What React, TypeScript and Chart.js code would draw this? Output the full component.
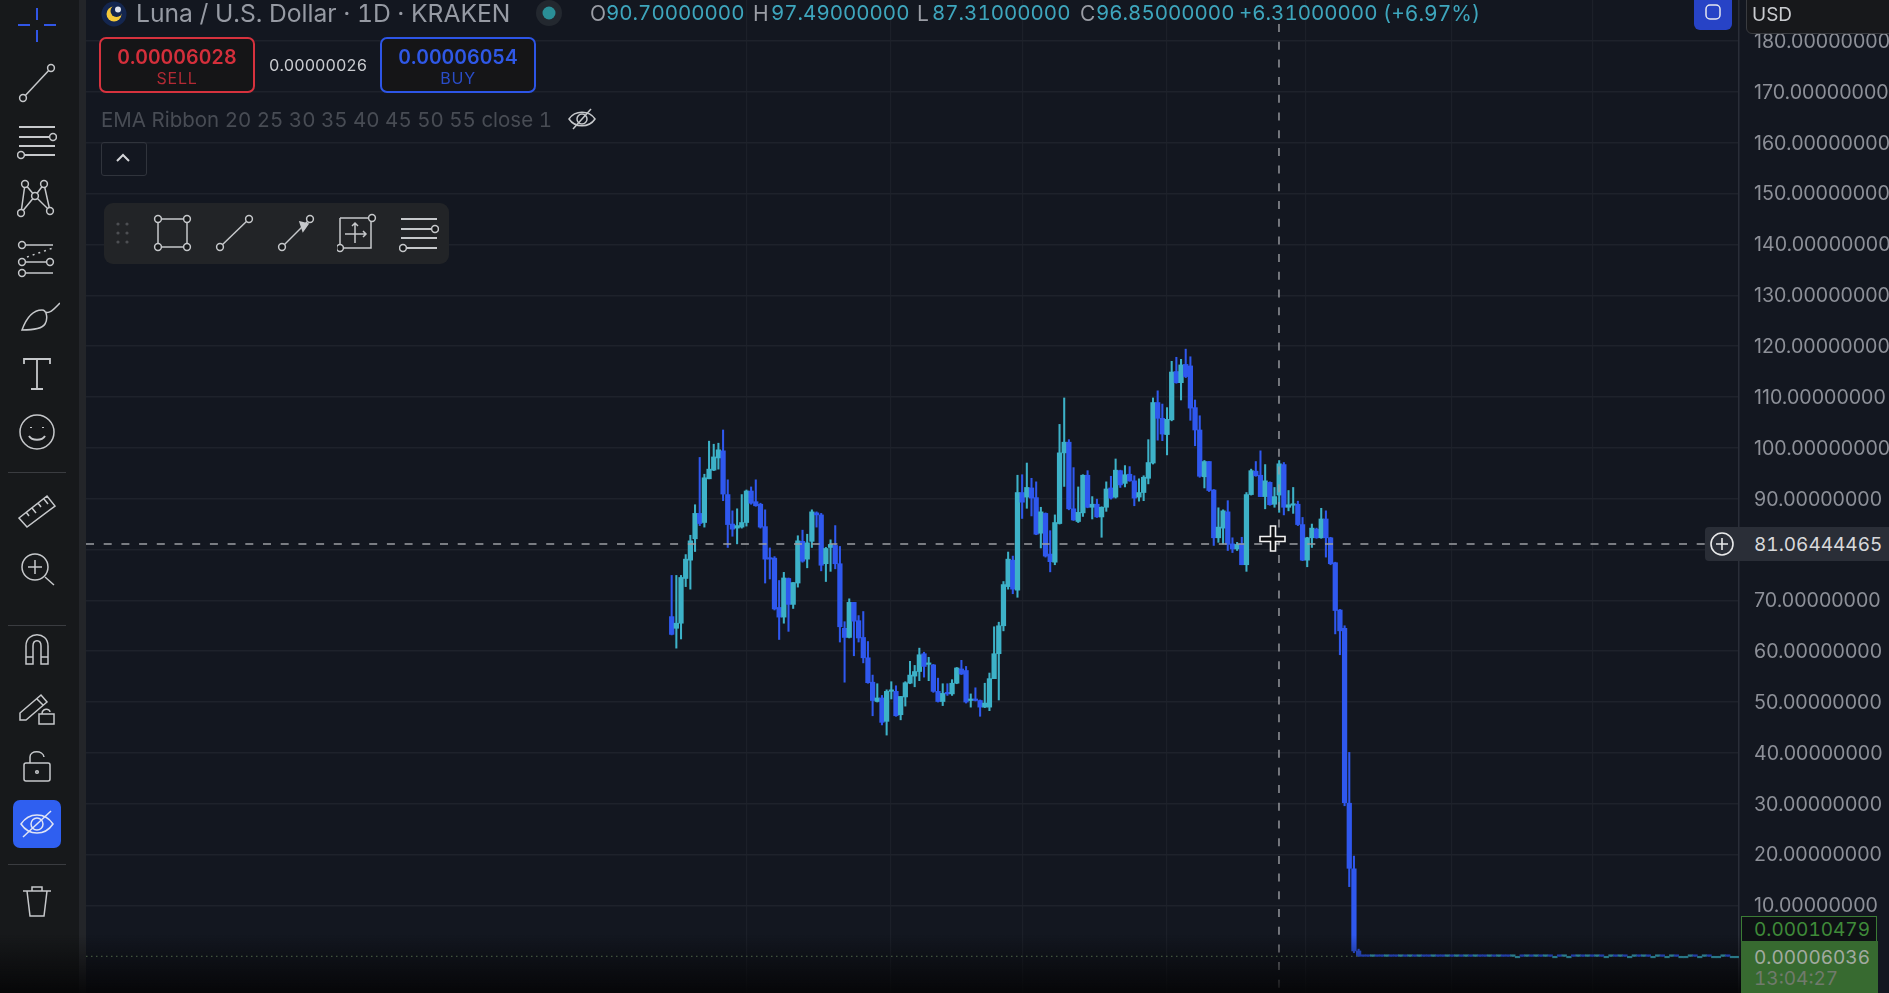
import React, { useEffect, useRef } from "react";
import { Chart, registerables } from "chart.js";

Chart.register(...registerables);

const opens = [
66.8,64.5,65.5,74.3,77.9,82.1,87.1,85.3,93.9,95.6,
98.0,99.4,90.8,85.0,84.2,84.4,85.3,91.5,89.4,88.9,
84.5,78.3,78.3,68.6,66.7,74.3,69.2,73.4,81.6,78.1,
81.6,87.2,86.8,77.2,80.4,80.8,77.2,64.5,62.7,69.6,
66.0,62.7,58.7,53.9,50.1,50.8,46.2,52.1,52.1,47.5,
51.0,53.7,55.1,56.0,59.5,57.4,57.3,52.1,50.1,51.9,
51.6,53.7,56.5,56.2,50.3,50.6,50.3,49.0,49.0,54.6,
59.5,65.0,72.7,77.9,72.0,91.2,90.3,92.1,90.2,83.2,
87.1,79.1,77.5,85.1,99.0,101.1,88.0,85.5,87.2,94.6,
88.3,88.9,86.4,88.3,92.1,90.3,95.5,93.0,94.8,93.5,
90.3,91.2,94.0,97.0,108.9,105.8,102.6,105.5,115.0,112.8,
116.4,116.1,107.9,103.5,94.3,97.3,91.7,82.3,84.2,87.4,
81.1,80.1,81.1,77.0,90.8,95.4,94.6,90.4,93.2,88.9,
90.7,96.7,88.3,88.7,88.9,84.9,77.9,82.3,84.0,82.3,
86.0,82.3,77.4,68.1,64.5,30.1,17.2,1.05];

const closes = [
63.3,65.5,74.5,78.1,81.7,87.1,85.1,94.1,95.8,98.2,
99.6,90.9,84.9,84.0,84.7,85.3,91.5,89.1,88.6,84.4,
78.1,78.1,68.3,66.7,74.4,69.2,73.5,81.7,77.7,81.3,
87.4,86.8,76.9,80.2,81.0,77.2,64.8,62.7,69.6,65.9,
62.6,58.7,53.8,50.3,50.8,46.0,52.1,52.3,47.3,51.1,
53.8,55.3,56.0,59.3,57.0,57.6,52.1,50.1,51.7,51.6,
53.7,56.7,55.5,50.0,50.6,50.3,49.0,49.8,54.6,59.5,
65.0,73.1,78.1,72.2,91.2,89.3,92.2,90.1,83.0,87.4,
78.7,77.6,85.3,99.0,101.1,88.0,85.8,87.3,94.6,88.3,
88.9,86.4,88.3,91.9,90.1,95.6,92.7,94.7,93.5,90.1,
91.2,94.2,97.1,108.9,105.8,102.7,105.6,114.9,112.8,116.3,
114.0,107.8,103.5,94.4,97.3,91.6,82.3,84.4,87.6,81.0,
80.1,81.0,77.0,90.8,95.5,94.5,90.4,93.5,88.8,90.4,
96.85,88.3,88.8,88.9,84.9,77.9,82.3,84.2,82.3,86.0,
82.3,77.2,68.0,64.0,30.2,17.3,1.05,0.0002];

const highs = [
74.9,74.9,74.9,79.0,82.8,88.8,98.1,94.8,101.3,100.7,
100.9,103.5,93.7,87.6,88.0,90.8,91.7,92.3,93.7,89.1,
87.8,80.3,78.6,73.9,75.5,74.4,73.5,82.7,83.8,83.0,
87.8,87.4,87.1,80.4,81.9,84.7,80.6,65.8,70.3,69.6,
67.0,67.8,61.9,55.3,53.6,51.3,52.4,54.0,53.2,51.1,
54.0,58.0,57.2,60.6,59.8,58.8,57.4,54.7,53.6,53.6,
54.4,56.8,58.2,57.0,51.6,52.8,50.4,53.7,55.7,64.8,
65.7,73.7,79.5,78.7,94.6,94.7,97.0,94.0,93.3,88.3,
87.2,83.7,86.8,104.6,109.8,101.6,96.1,92.3,94.7,95.5,
90.4,89.9,88.4,93.3,94.4,97.8,95.6,96.5,96.3,94.5,
93.9,94.5,101.6,109.8,111.2,108.6,107.9,117.0,117.8,117.4,
119.4,117.9,109.4,106.3,97.5,97.3,91.8,88.2,87.8,89.6,
82.3,81.4,82.4,91.2,95.8,97.3,99.4,96.7,93.3,92.2,
97.49,97.1,91.6,92.2,89.5,86.3,82.4,85.0,84.2,88.1,
87.6,82.4,77.5,68.2,65.0,40.1,19.7,1.4];

const lows = [
63.2,60.6,62.4,72.7,72.2,79.6,84.7,84.4,93.9,95.5,
95.8,89.6,80.4,82.6,81.1,84.2,84.6,88.9,88.5,84.2,
73.4,74.2,68.1,62.3,65.5,63.9,68.4,72.6,77.5,76.4,
80.4,84.4,75.8,73.7,75.7,76.2,61.8,53.9,62.6,59.1,
61.8,57.7,53.7,47.3,50.0,45.5,43.5,50.6,47.2,46.5,
49.2,53.6,53.0,54.2,54.9,54.2,51.9,50.0,49.3,51.3,
51.3,53.6,55.4,49.8,49.0,50.2,47.2,48.9,48.3,54.6,
50.4,64.0,72.2,71.3,70.6,86.1,88.1,86.6,82.9,80.3,
78.5,75.6,77.0,85.0,92.4,87.8,85.7,85.3,86.5,88.2,
86.0,86.3,82.4,87.5,89.9,90.1,92.2,92.3,93.4,88.6,
89.5,89.6,92.9,96.8,101.5,101.4,98.6,105.3,112.7,109.4,
113.8,105.4,100.4,94.2,92.1,91.4,80.8,81.4,81.1,79.8,
79.4,79.8,77.0,75.7,90.7,94.4,90.4,88.0,88.7,88.3,
87.31,86.8,87.6,87.1,84.7,77.8,76.6,80.4,82.2,82.2,
78.5,77.0,63.4,59.3,29.6,13.7,0.7,0.0001];

// the long flat stretch after the collapse
const tailOpens = [
0.00019,0.00017,0.00014,0.00016,0.00013,0.00012,0.00014,0.00012,0.00011,0.00012,
0.00011,0.00012,0.00010,0.00011,0.00010,0.00009,0.00011,0.00010,0.00009,0.00010,
0.00009,0.00010,0.00008,0.00009,0.00008,0.00010,0.00009,0.00008,0.00009,0.00008,
0.00009,0.00008,0.00007,0.00008,0.00008,0.00007,0.00008,0.00007,0.00008,0.00007,
0.00008,0.00007,0.00007,0.00006,0.00007,0.00007,0.00006,0.00007,0.00006,0.00007,
0.00006,0.00007,0.00006,0.00006,0.00007,0.00006,0.00007,0.00006,0.00006,0.00007,
0.00006,0.00007,0.00006,0.00006,0.00007,0.00006,0.00006,0.00007,0.00006,0.00006,
0.00006,0.00007,0.00006,0.00006,0.00007,0.00006,0.00006,0.00006,0.00007,0.00006,0.00006];
const tailCloses = [
0.00017,0.00014,0.00016,0.00013,0.00012,0.00014,0.00012,0.00011,0.00012,0.00011,
0.00012,0.00010,0.00011,0.00010,0.00009,0.00011,0.00010,0.00009,0.00010,0.00009,
0.00010,0.00008,0.00009,0.00008,0.00010,0.00009,0.00008,0.00009,0.00008,0.00009,
0.00008,0.00007,0.00008,0.00008,0.00007,0.00008,0.00007,0.00008,0.00007,0.00008,
0.00007,0.00007,0.00006,0.00007,0.00007,0.00006,0.00007,0.00006,0.00007,0.00006,
0.00007,0.00006,0.00006,0.00007,0.00006,0.00007,0.00006,0.00006,0.00007,0.00006,
0.00007,0.00006,0.00006,0.00007,0.00006,0.00006,0.00007,0.00006,0.00006,0.00006,
0.00007,0.00006,0.00006,0.00007,0.00006,0.00006,0.00006,0.00007,0.00006,0.00006,0.00006];

const priceTicks = [10,20,30,40,50,60,70,80,90,100,110,120,130,140,150,160,170,180];
const gridDays = [16.1,46.9,75,106,135.7,167,197];
const crosshairPrice = 81.06444465;
const crosshairDay = 129.96;
const lastPrice = 0.00006036;
const lastTradedDay = 147;

const allOpens = [...opens, ...tailOpens];
const allCloses = [...closes, ...tailCloses];
const allHighs = [...highs, ...tailOpens];
const allLows = [...lows, ...tailCloses];

const TEAL = "#3db2c8";
const BLUE = "#2f58ee";
const BG = "#131720";
const FONT = "Inter, 'Noto Sans', sans-serif";

const overlayPlugin = {
  id: "overlay",
  afterDatasetsDraw(chart: any) {
    const { ctx, chartArea, scales } = chart;
    const yCross = scales.y.getPixelForValue(crosshairPrice);
    const xCross = scales.x.getPixelForValue(crosshairDay);
    const yLast = scales.y.getPixelForValue(lastPrice);
    const xLast = scales.x.getPixelForValue(lastTradedDay);
    ctx.save();
    ctx.strokeStyle = "#9c9ea3";
    ctx.lineWidth = 1.4;
    ctx.setLineDash([8, 9.7]);
    ctx.beginPath();
    ctx.moveTo(chartArea.left, yCross);
    ctx.lineTo(chartArea.right - 34, yCross);
    ctx.moveTo(xCross, 24);
    ctx.lineTo(xCross, chartArea.bottom);
    ctx.stroke();
    ctx.strokeStyle = "#5e7a58";
    ctx.lineWidth = 1.2;
    ctx.setLineDash([1.5, 3.5]);
    ctx.beginPath();
    ctx.moveTo(chartArea.left, yLast);
    ctx.lineTo(xLast, yLast);
    ctx.stroke();
    ctx.restore();
  },
};

const S = { fill: "none", stroke: "#c6c8cb", strokeWidth: 1.5 };

function Icon({ x, y, w = 40, h = 40, children }: any) {
  return (
    <svg width={w} height={h} viewBox={`0 0 ${w} ${h}`} style={{ position: "absolute", left: x - w / 2, top: y - h / 2 }}>
      <g {...S}>{children}</g>
    </svg>
  );
}

const Dot = ({ cx, cy, r = 3.4 }: any) => <circle cx={cx} cy={cy} r={r} fill="#17191b" />;

function Txt({ x, y, size, color, weight = 400, children, spacing = 0, width }: any) {
  return (
    <div
      style={{
        position: "absolute",
        left: x,
        top: y,
        transform: "translateY(-50%)",
        fontFamily: FONT,
        fontSize: size,
        color,
        fontWeight: weight,
        letterSpacing: spacing,
        fontVariantNumeric: "tabular-nums",
        whiteSpace: "nowrap",
        lineHeight: 1,
        width,
        textAlign: width ? "center" : undefined,
      }}
    >
      {children}
    </div>
  );
}

function Sidebar() {
  return (
    <>
      <div style={{ position: "absolute", left: 0, top: 0, width: 79, height: 993, background: "#17191b" }} />
      <div style={{ position: "absolute", left: 79, top: 0, width: 7, height: 993, background: "#232529" }} />
      {[472, 625, 864].map((y) => (
        <div key={y} style={{ position: "absolute", left: 8, top: y, width: 58, height: 1, background: "#3a3c40" }} />
      ))}
      <div style={{ position: "absolute", left: 13, top: 800, width: 48, height: 48, borderRadius: 7, background: "#2f5ff0" }} />
      <Icon x={37} y={25}>
        <path d="M20 3V15M20 25V37M1 20H13M27 20H39" stroke="#3156e6" strokeWidth="2" />
      </Icon>
      <Icon x={37} y={83}>
        <path d="M6 35L34 5" /><Dot cx={6} cy={35} /><Dot cx={34} cy={5} />
      </Icon>
      <Icon x={37} y={141}>
        <path d="M2 6H38M2 16H38M2 25H38M2 34H38" strokeWidth="2" /><Dot cx={36} cy={16} /><Dot cx={4} cy={34} />
      </Icon>
      <Icon x={37} y={199}>
        <path d="M8 5L4 34L18 17L33 32L27 5L18 17L8 5M4 34L18 17" /><Dot cx={8} cy={5} /><Dot cx={27} cy={5} /><Dot cx={4} cy={34} /><Dot cx={33} cy={32} /><Dot cx={18} cy={17} />
      </Icon>
      <Icon x={37} y={258}>
        <path d="M5 7H36M5 24H36M5 35H36" /><path d="M10 19L36 10" strokeDasharray="2 4" /><Dot cx={5} cy={7} /><Dot cx={5} cy={24} /><Dot cx={33} cy={24} /><Dot cx={5} cy={35} />
      </Icon>
      <Icon x={40} y={315}>
        <path d="M2 35C6 24 12 15 22 15C27 15 28 24 25 29C22 34 10 35 2 35ZM25 17C30 19 34 14 40 8" />
      </Icon>
      <Icon x={37} y={375}>
        <path d="M7 9V4H33V9M20 4V34M14 34H26" strokeWidth="1.8" />
      </Icon>
      <Icon x={37} y={432}>
        <circle cx="20" cy="20" r="17" /><path d="M12 24C15 29 25 29 28 24M14 15v1M26 15v1" strokeWidth="2" />
      </Icon>
      <Icon x={37} y={511}>
        <path d="M2 27L30 5L38 15L10 36ZM9 21L12 25M15 17L19 22M21 12L24 16M27 8L31 13" />
      </Icon>
      <Icon x={37} y={569}>
        <circle cx="18" cy="18" r="13" /><path d="M28 28L37 36M11 18H25M18 11V25" />
      </Icon>
      <Icon x={37} y={648}>
        <path d="M9 36V18C9 3 31 3 31 18V36H24V18C24 11 16 11 16 18V36ZM9 29H16M24 29H31" />
      </Icon>
      <Icon x={37} y={707}>
        <path d="M3 26L24 8L30 15L9 33H3ZM20 12L26 18" /><rect x="22" y="27" width="15" height="10" /><path d="M25 27C25 21 33 21 33 25" />
      </Icon>
      <Icon x={37} y={766}>
        <rect x="7" y="17" width="26" height="18" rx="2" /><path d="M13 17V11C13 4 26 4 27 11" /><circle cx="20" cy="26" r="1.3" />
      </Icon>
      <Icon x={37} y={824}>
        <path d="M4 20C12 8 28 8 36 20C28 32 12 32 4 20Z" stroke="#dfe4f5" /><circle cx="20" cy="20" r="6" stroke="#dfe4f5" /><path d="M6 33L34 7" stroke="#dfe4f5" />
      </Icon>
      <Icon x={37} y={902}>
        <path d="M6 9H34M10 9L13 34H27L30 9M15 9V5H25V9" />
      </Icon>
    </>
  );
}

function TopBar() {
  const label = "#9a9da5";
  const value = "#3ea6bd";
  return (
    <>
      <svg width="26" height="26" style={{ position: "absolute", left: 101, top: 1 }}>
        <circle cx="13" cy="13" r="12.5" fill="#14264f" />
        <circle cx="13" cy="13" r="7.5" fill="#f5c93a" />
        <circle cx="15.5" cy="10" r="6" fill="#14264f" />
        <circle cx="17" cy="8.5" r="3" fill="#dfe3ee" />
      </svg>
      <Txt x={136} y={13} size={24.65} color="#969aa3">Luna / U.S. Dollar · 1D · KRAKEN</Txt>
      <svg width="30" height="30" style={{ position: "absolute", left: 534, top: -2 }}>
        <circle cx="15" cy="15" r="13" fill="#23282f" />
        <circle cx="15" cy="15" r="6.5" fill="#2a8f97" />
      </svg>
      <Txt x={590} y={13} size={21} color={label}>O</Txt>
      <Txt x={606} y={13} size={20.5} color={value}>90.70000000</Txt>
      <Txt x={753} y={13} size={21} color={label}>H</Txt>
      <Txt x={771} y={13} size={20.5} color={value}>97.49000000</Txt>
      <Txt x={917} y={13} size={21} color={label}>L</Txt>
      <Txt x={932} y={13} size={20.5} color={value}>87.31000000</Txt>
      <Txt x={1080} y={13} size={21} color={label}>C</Txt>
      <Txt x={1096} y={13} size={20.5} color={value}>96.85000000</Txt>
      <Txt x={1239} y={13} size={20.5} color={value}>+6.31000000</Txt>
      <Txt x={1383} y={13} size={21} color={value}>(+6.97%)</Txt>

      <div style={{ position: "absolute", left: 99, top: 37, width: 152, height: 52, border: "2px solid #d6323e", borderRadius: 7, background: "#151517" }} />
      <Txt x={99} y={58} size={19.6} color="#d42f3b" weight={600} width={156}>0.00006028</Txt>
      <Txt x={99} y={78} size={16} color="#b32a34" width={156} spacing={0.8}>SELL</Txt>
      <Txt x={269} y={65} size={16.1} color="#c9cbcf">0.00000026</Txt>
      <div style={{ position: "absolute", left: 380, top: 37, width: 152, height: 52, border: "2px solid #2d55e6", borderRadius: 7, background: "#151517" }} />
      <Txt x={380} y={58} size={19.6} color="#2f58e6" weight={600} width={156}>0.00006054</Txt>
      <Txt x={380} y={78} size={16} color="#2a4dc8" width={156} spacing={0.8}>BUY</Txt>

      <Txt x={101} y={120} size={20.5} color="#484c54">EMA Ribbon 20 25 30 35 40 45 50 55 close 1</Txt>
      <Icon x={582} y={119} w={30} h={30}>
        <path d="M2 15C8 6 22 6 28 15C22 24 8 24 2 15Z" /><circle cx="15" cy="15" r="5" /><path d="M6 25L24 5" />
      </Icon>
      <div style={{ position: "absolute", left: 101, top: 142, width: 44, height: 32, border: "1.5px solid #30343c", borderRadius: 3 }} />
      <Icon x={123} y={158} w={20} h={20}>
        <path d="M4 13L10 7L16 13" stroke="#d4d5d8" strokeWidth="2" />
      </Icon>

      <div style={{ position: "absolute", left: 104, top: 203, width: 345, height: 61, borderRadius: 9, background: "#222427" }} />
      <svg width="14" height="24" style={{ position: "absolute", left: 116, top: 221 }}>
        {[3, 12, 21].flatMap((y) => [2, 11].map((x) => <circle key={`${x}-${y}`} cx={x} cy={y} r="1.6" fill="#4d4f53" />))}
      </svg>
      <Icon x={173} y={233}>
        <rect x="5" y="6" width="29" height="28" /><Dot cx={5} cy={6} /><Dot cx={34} cy={6} /><Dot cx={5} cy={34} /><Dot cx={34} cy={34} />
      </Icon>
      <Icon x={234} y={233}>
        <path d="M6 34L35 6" /><Dot cx={6} cy={34} /><Dot cx={35} cy={6} />
      </Icon>
      <Icon x={296} y={233}>
        <path d="M6 34L34 6" /><path d="M24 9L32 11L27 18Z" fill="#c6c8cb" /><Dot cx={6} cy={34} /><Dot cx={34} cy={6} />
      </Icon>
      <Icon x={357} y={233}>
        <path d="M3 5H35M3 5V35H34V5" /><path d="M18 10V30M8 21H29M15 13L18 10L21 13M26 18L29 21L26 24" /><Dot cx={35} cy={5} /><Dot cx={3} cy={35} />
      </Icon>
      <Icon x={419} y={233}>
        <path d="M2 6H38M2 16H38M2 25H38M2 35H38" strokeWidth="2" /><Dot cx={36} cy={16} /><Dot cx={4} cy={35} />
      </Icon>

      <div style={{ position: "absolute", left: 1694, top: -6, width: 38, height: 36, borderRadius: 6, background: "#2743c6" }} />
      <Icon x={1713} y={12} w={20} h={20}>
        <rect x="3" y="3" width="14" height="14" rx="4" stroke="#e6e8f0" />
      </Icon>
      <div style={{ position: "absolute", left: 1746, top: -6, width: 150, height: 38, border: "1px solid #3a3c40", borderRadius: 6, background: "#17181b" }} />
      <Txt x={1752} y={14} size={19} color="#c9cbcf">USD</Txt>
    </>
  );
}

function PriceLabels() {
  return (
    <>
      <div style={{ position: "absolute", left: 0, top: 935, width: 1741, height: 58, background: "linear-gradient(rgba(5,5,6,0), rgba(5,5,6,0.9))" }} />
      <div style={{ position: "absolute", left: 1705, top: 527, width: 184, height: 34, borderRadius: "4px 0 0 4px", background: "#2a2e37" }} />
      <svg width="26" height="26" style={{ position: "absolute", left: 1709, top: 531 }}>
        <circle cx="13" cy="13" r="11" fill="none" stroke="#e8e9ea" strokeWidth="1.6" />
        <path d="M13 7V19M7 13H19" stroke="#e8e9ea" strokeWidth="1.6" />
      </svg>
      <Txt x={1754} y={544} size={19} color="#d8d9db">81.06444465</Txt>
      <div style={{ position: "absolute", left: 1741, top: 916, width: 134, height: 24, border: "1.5px solid #3b7c35", background: "#0e1114" }} />
      <Txt x={1754} y={929} size={19} color="#3f8a39">0.00010479</Txt>
      <div style={{ position: "absolute", left: 1741, top: 941, width: 137, height: 52, background: "#376a30" }} />
      <Txt x={1754} y={957} size={19} color="#a2aaa0">0.00006036</Txt>
      <Txt x={1754} y={978} size={19} color="#707a6c">13:04:27</Txt>
      <svg width="32" height="32" style={{ position: "absolute", left: 1257, top: 523 }}>
        <path d="M13.5 3H18.5V13.5H28V18.5H18.5V28H13.5V18.5H3V13.5H13.5Z" fill="#0c0d10" stroke="#f2f2f2" strokeWidth="1.6" />
      </svg>
    </>
  );
}

export default function App() {
  const ref = useRef<HTMLCanvasElement>(null);
  useEffect(() => {
    document.body.style.margin = "0";
    document.body.style.background = BG;
    document.body.style.overflow = "hidden";
    const colors = allOpens.map((o, i) => (allCloses[i] >= o ? TEAL : BLUE));
    const chart = new Chart(ref.current as HTMLCanvasElement, {
      type: "bar",
      data: {
        datasets: [
          {
            label: "Body",
            data: allOpens.map((o, i) => ({ x: i, y: [o, allCloses[i]] })),
            backgroundColor: colors,
            barThickness: 4.6,
            minBarLength: 1.5,
            borderWidth: 0,
            grouped: false,
            order: 1,
          } as any,
          {
            label: "Wick",
            data: allHighs.map((h, i) => ({ x: i, y: [allLows[i], h] })),
            backgroundColor: colors,
            barThickness: 1.4,
            minBarLength: 1,
            borderWidth: 0,
            grouped: false,
            order: 2,
          } as any,
        ],
      },
      options: {
        animation: false,
        responsive: false,
        events: [],
        layout: { padding: { left: 86, right: 0, top: 0, bottom: 0 } },
        plugins: { legend: { display: false }, tooltip: { enabled: false } },
        scales: {
          x: {
            type: "linear",
            offset: false,
            min: -125.33,
            max: 228.4,
            afterBuildTicks: (s: any) => {
              s.ticks = gridDays.map((value) => ({ value }));
            },
            afterFit: (s: any) => {
              s.height = 0;
              s.paddingLeft = 0;
              s.paddingRight = 0;
            },
            ticks: { display: false, autoSkip: false },
            grid: { color: "#1c2029", lineWidth: 1.2, offset: false, drawTicks: false },
            border: { display: false },
          },
          y: {
            position: "right",
            min: -7.22,
            max: 188.06,
            afterBuildTicks: (s: any) => {
              s.ticks = priceTicks.map((value) => ({ value }));
            },
            afterFit: (s: any) => {
              s.width = 150;
              s.paddingTop = 0;
              s.paddingBottom = 0;
            },
            ticks: {
              autoSkip: false,
              color: "#8d9098",
              padding: 15,
              labelOffset: 1,
              font: { family: FONT, size: 19.6 },
              callback: (v: any) => Number(v).toFixed(8),
            },
            grid: { color: "#1e222b", lineWidth: 1.4, drawTicks: false },
            border: { display: true, color: "#2a2e38", width: 1.5 },
          },
        },
      } as any,
      plugins: [overlayPlugin],
    });
    return () => chart.destroy();
  }, []);
  return (
    <div style={{ position: "relative", width: 1889, height: 993, overflow: "hidden", background: BG }}>
      <canvas ref={ref} width={1889} height={993} style={{ position: "absolute", left: 0, top: 0, display: "block" }} />
      <Sidebar />
      <TopBar />
      <PriceLabels />
    </div>
  );
}
